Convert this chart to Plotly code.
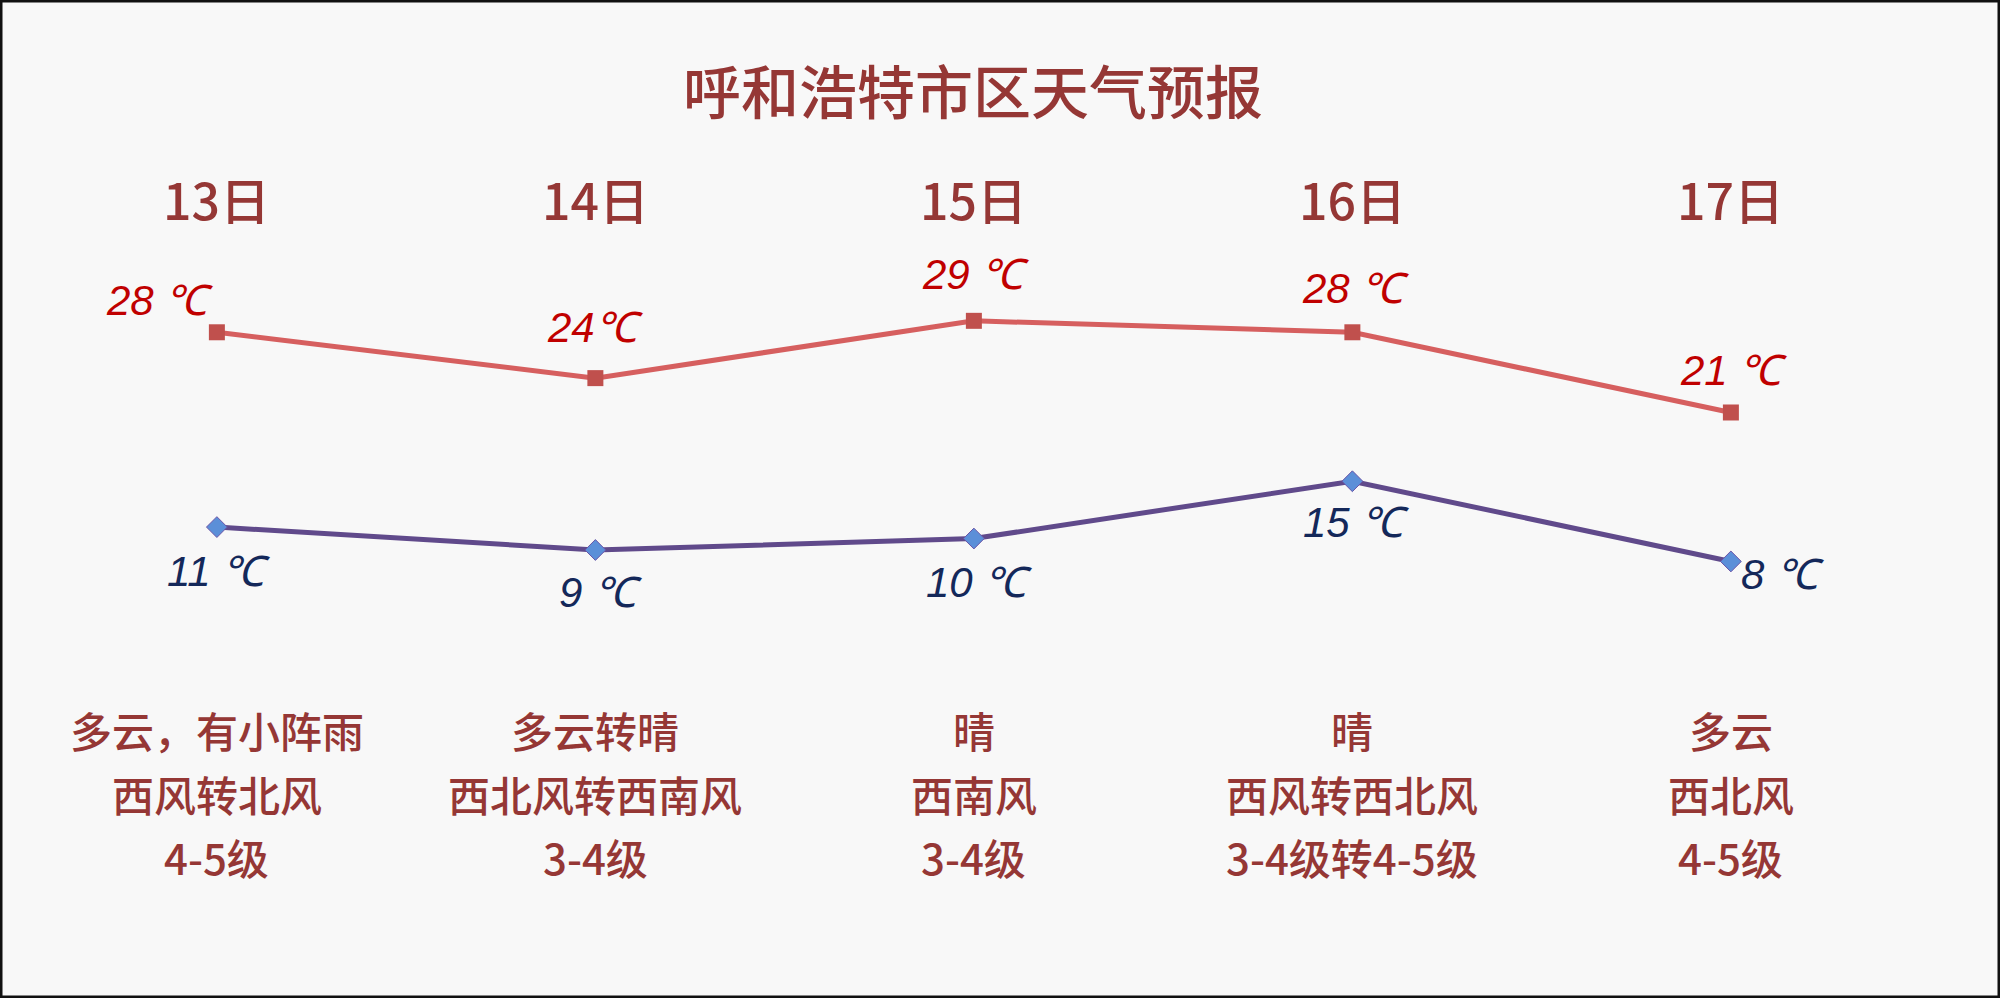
import plotly.graph_objects as go

days = ["13日", "14日", "15日", "16日", "17日"]
t_max = [28, 24, 29, 28, 21]
t_min = [11, 9, 10, 15, 8]
max_labels = ["28 ℃", "24℃", "29 ℃", "28 ℃", "21 ℃"]
min_labels = ["11 ℃", "9 ℃", "10 ℃", "15 ℃", "8 ℃"]
weather = ["多云，有小阵雨", "多云转晴", "晴", "晴", "多云"]
wind = ["西风转北风", "西北风转西南风", "西南风", "西风转西北风", "西北风"]
level = ["4-5级", "3-4级", "3-4级", "3-4级转4-5级", "4-5级"]
title = "呼和浩特市区天气预报"

# label offsets (px)
max_shift = [(-57, 32), (0, 51), (2, 46), (3, 44), (3, 42)]
min_shift = [(2, -44), (5, -43), (5, -44), (4, -41), (52, -13)]

x = list(range(len(days)))
DARK = "#953735"
CJK = "Noto Sans CJK SC, sans-serif"
NUM = "Liberation Sans Narrow, Liberation Sans, sans-serif"

fig = go.Figure()
fig.add_trace(go.Scatter(
    x=x, y=t_max, mode="lines+markers",
    line=dict(color="#d65f5f", width=5),
    marker=dict(symbol="square", size=16, color="#c0504d"),
    hoverinfo="skip"))
fig.add_trace(go.Scatter(
    x=x, y=t_min, mode="lines+markers",
    line=dict(color="#604a8b", width=5),
    marker=dict(symbol="diamond", size=16, color="#5b8fd8",
                line=dict(color="#6a55a8", width=1)),
    hoverinfo="skip"))

ann = []
for i in x:
    ann.append(dict(x=i, y=t_max[i], xref="x", yref="y", text=max_labels[i],
                    showarrow=False, xshift=max_shift[i][0], yshift=max_shift[i][1],
                    xanchor="center", yanchor="middle",
                    font=dict(family=NUM, size=42, color="#c00000", style="italic")))
    ann.append(dict(x=i, y=t_min[i], xref="x", yref="y", text=min_labels[i],
                    showarrow=False, xshift=min_shift[i][0], yshift=min_shift[i][1],
                    xanchor="center", yanchor="middle",
                    font=dict(family=NUM, size=42, color="#14285a", style="italic")))
    ann.append(dict(x=i, y=0.8016, xref="x", yref="paper", text=days[i],
                    showarrow=False, xanchor="center", yanchor="middle",
                    font=dict(family=CJK, size=50, color=DARK, weight=500)))
    for yy, txt in zip([0.2695, 0.2054, 0.1413], [weather[i], wind[i], level[i]]):
        ann.append(dict(x=i, y=yy, xref="x", yref="paper", text=txt,
                        showarrow=False, xanchor="center", yanchor="middle",
                        font=dict(family=CJK, size=42, color=DARK, weight=500)))
ann.append(dict(x=0.4865, y=0.911, xref="paper", yref="paper", text=title,
                showarrow=False, xanchor="center", yanchor="middle",
                font=dict(family=CJK, size=58, color=DARK, weight=500)))

fig.update_layout(
    width=2000, height=998,
    margin=dict(l=0, r=0, t=0, b=0),
    paper_bgcolor="#f8f8f8", plot_bgcolor="#f8f8f8",
    showlegend=False,
    xaxis=dict(range=[-0.573, 4.711], visible=False, fixedrange=True),
    yaxis=dict(range=[-30.1, 57.0], visible=False, fixedrange=True),
    annotations=ann,
    shapes=[dict(type="rect", xref="paper", yref="paper", x0=0, y0=0, x1=1, y1=1,
                 line=dict(color="#111111", width=5))],
)
fig.write_html("out.html", config={"displayModeBar": False},
               post_script="document.body.style.margin='0px';document.body.style.overflow='hidden';")
